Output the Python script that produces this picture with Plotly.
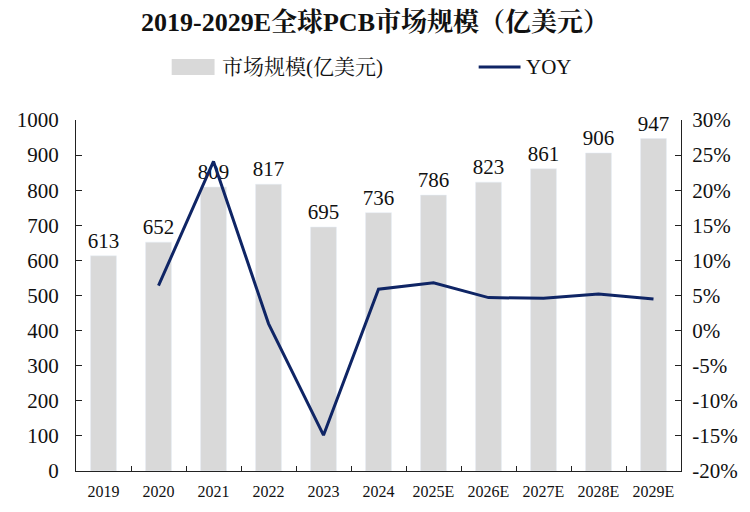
import plotly.graph_objects as go

years = ["2019", "2020", "2021", "2022", "2023", "2024", "2025E", "2026E", "2027E", "2028E", "2029E"]
market = [613, 652, 809, 817, 695, 736, 786, 823, 861, 906, 947]
yoy = [None, 6.4, 24.1, 1.0, -14.9, 5.9, 6.8, 4.7, 4.6, 5.2, 4.5]
left_ticks = list(range(0, 1001, 100))
right_ticks = list(range(-20, 31, 5))
right_labels = [f"{v}%" for v in right_ticks]

SERIF = "Liberation Serif, Times New Roman, Noto Serif CJK SC, Noto Sans CJK SC, serif"
BAR_C = "#d9d9d9"
LINE_C = "#0f2565"

fig = go.Figure()
fig.add_trace(go.Bar(
    x=years, y=market, marker_color=BAR_C, width=0.47,
    text=[str(v) for v in market], textposition="outside", constraintext="none",
    textfont=dict(family=SERIF, size=21, color="#111"),
    cliponaxis=False, name="市场规模(亿美元)", showlegend=False,
))
fig.add_trace(go.Scatter(
    x=years, y=yoy, yaxis="y2", mode="lines",
    line=dict(color=LINE_C, width=3), name="YOY", showlegend=False,
))

L, R, T, B = 76, 67, 120, 41
W, H = 750, 512
pw, ph = W - L - R, H - T - B

def px(x):
    return (x - L) / pw

def py(y):
    return (H - B - y) / ph

fig.update_layout(
    width=W, height=H, autosize=False,
    margin=dict(l=L, r=R, t=T, b=B, pad=0),
    plot_bgcolor="white", paper_bgcolor="white",
    title=dict(text="<b>2019-2029E全球PCB市场规模（亿美元）</b>",
               x=0.5, xref="container", y=1 - 22 / H, yref="container",
               xanchor="center", yanchor="middle",
               font=dict(family=SERIF, size=26, color="#111")),
    xaxis=dict(type="category", showline=True, linecolor="#222", linewidth=1,
               ticks="inside", tickson="boundaries", ticklen=5, tickcolor="#222",
               tickfont=dict(family=SERIF, size=16, color="#111"),
               showgrid=False, zeroline=False, ticklabelstandoff=6),
    yaxis=dict(range=[0, 1000], tickmode="array", tickvals=left_ticks, showline=True,
               linecolor="#222", linewidth=1, ticks="inside", ticklen=6, tickcolor="#222",
               tickfont=dict(family=SERIF, size=21, color="#111"),
               showgrid=False, zeroline=False, ticklabelstandoff=12),
    yaxis2=dict(range=[-20, 30], tickmode="array", tickvals=right_ticks, ticktext=right_labels,
                overlaying="y", side="right", showline=True, linecolor="#222",
                linewidth=1, ticks="inside", ticklen=6, tickcolor="#222",
                tickfont=dict(family=SERIF, size=21, color="#111"),
                showgrid=False, zeroline=False, ticklabelstandoff=6),
)

# manual legend
fig.add_shape(type="rect", xref="paper", yref="paper",
              x0=px(172), x1=px(215), y0=py(75), y1=py(59),
              fillcolor=BAR_C, line=dict(width=0))
fig.add_shape(type="line", xref="paper", yref="paper",
              x0=px(480), x1=px(522), y0=py(67), y1=py(67),
              line=dict(color=LINE_C, width=3))
fig.add_annotation(xref="paper", yref="paper", x=px(220), y=py(67),
                   xanchor="left", yanchor="middle", showarrow=False,
                   text="市场规模(亿美元)", font=dict(family=SERIF, size=21, color="#111"))
fig.add_annotation(xref="paper", yref="paper", x=px(525), y=py(67),
                   xanchor="left", yanchor="middle", showarrow=False,
                   text="YOY", font=dict(family=SERIF, size=21, color="#111"))

fig.write_html("out.html")
